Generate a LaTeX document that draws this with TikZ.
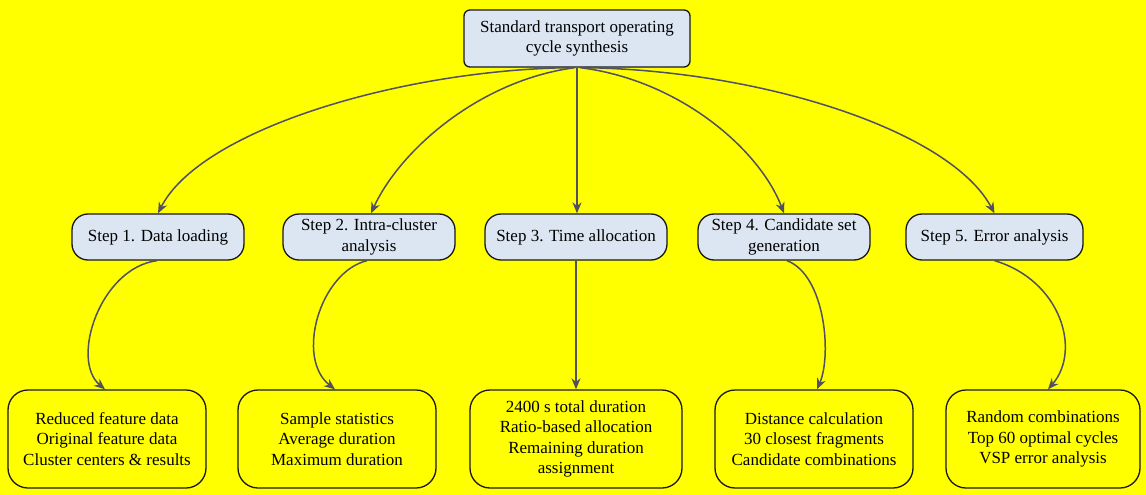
\documentclass[tikz,border=0pt]{standalone}
\usepackage{fontspec}
\setmainfont{Liberation Serif}
\newfontfamily\diagserif{Liberation Serif}
\usetikzlibrary{arrows.meta}
\definecolor{bgyellow}{HTML}{FFFF00}
\definecolor{boxblue}{HTML}{DCE6F2}
\definecolor{edgegrey}{HTML}{505060}
\begin{document}
\begin{tikzpicture}[x=1pt,y=-1pt,
  every node/.style={font=\diagserif\fontsize{17}{20.5}\selectfont, align=center, inner sep=0pt},
  topbox/.style={draw=black!90, line width=1.3pt, fill=boxblue, rounded corners=6pt, minimum width=226pt, minimum height=57pt},
  stepbox/.style={draw=black!90, line width=1.3pt, fill=boxblue, rounded corners=16pt, minimum height=46pt},
  leafbox/.style={draw=black!90, line width=1.3pt, fill=bgyellow, rounded corners=20pt, minimum height=98pt},
  conn/.style={draw=edgegrey, line width=1.5pt, -{Stealth[length=11pt,width=9pt]}}
]
\fill[bgyellow] (0,0) rectangle (1146,495);
\useasboundingbox (0,0) rectangle (1146,495);

\node[topbox] (top) at (577,38.5) {Standard transport operating\\cycle synthesis};

\node[stepbox, minimum width=172pt] (s1) at (158,237) {Step 1. Data loading};
\node[stepbox, minimum width=172pt] (s2) at (369,237) {Step 2. Intra-cluster\\analysis};
\node[stepbox, minimum width=182pt] (s3) at (576,237) {Step 3. Time allocation};
\node[stepbox, minimum width=172pt] (s4) at (784,237) {Step 4. Candidate set\\generation};
\node[stepbox, minimum width=177pt] (s5) at (994.5,237) {Step 5. Error analysis};

\node[leafbox, minimum width=198pt] (b1) at (107,439) {Reduced feature data\\Original feature data\\Cluster centers \& results};
\node[leafbox, minimum width=198pt] (b2) at (337,439) {Sample statistics\\Average duration\\Maximum duration};
\node[leafbox, minimum width=212pt] (b3) at (576,439) {2400 s total duration\\Ratio-based allocation\\Remaining duration\\assignment};
\node[leafbox, minimum width=198pt] (b4) at (814,439) {Distance calculation\\30 closest fragments\\Candidate combinations};
\node[leafbox, minimum width=194pt] (b5) at (1043,439) {Random combinations\\Top 60 optimal cycles\\VSP error analysis};

% top to steps
\draw[conn] ([xshift=-7pt]top.south) .. controls (400,70) and (200,130) .. (s1.north);
\draw[conn] ([xshift=-2pt]top.south) .. controls (480,80) and (400,150) .. ([xshift=2pt]s2.north);
\draw[conn] (top.south) -- (top.south |- s3.north);
\draw[conn] ([xshift=3pt]top.south) .. controls (680,80) and (760,150) .. (s4.north);
\draw[conn] ([xshift=7pt]top.south) .. controls (760,70) and (950,130) .. (s5.north);

% steps to leaves
\draw[conn] ([xshift=-1pt]s1.south) .. controls (100,268) and (70,360) .. ([xshift=-2pt]b1.north);
\draw[conn] ([xshift=-2pt]s2.south) .. controls (320,272) and (295,358) .. ([xshift=-2pt]b2.north);
\draw[conn] (s3.south -| b3.north) -- (b3.north);
\draw[conn] ([xshift=3pt]s4.south) .. controls (825,275) and (832,355) .. ([xshift=3pt]b4.north);
\draw[conn] (s5.south) .. controls (1060,280) and (1082,350) .. ([xshift=5pt]b5.north);
\end{tikzpicture}
\end{document}
